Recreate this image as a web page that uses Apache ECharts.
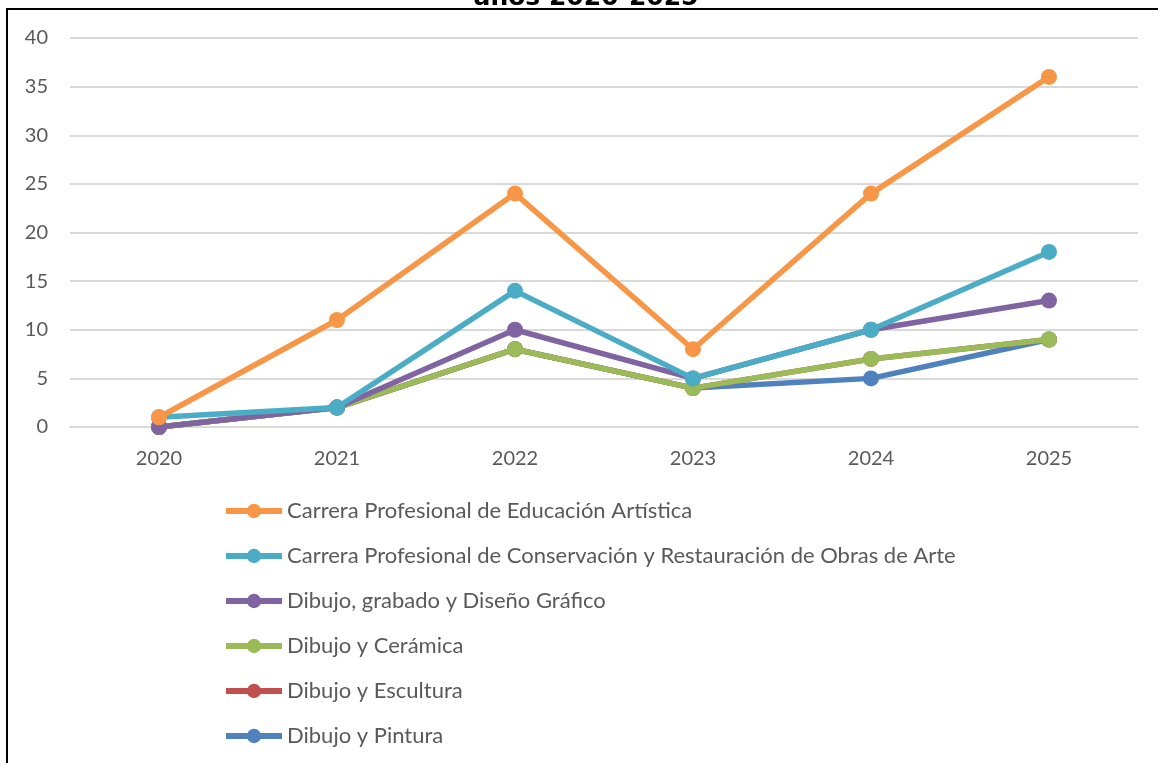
<!DOCTYPE html>
<html>
<head>
<meta charset="utf-8">
<script src="https://cdn.jsdelivr.net/npm/echarts@6/dist/echarts.min.js"></script>
<style>html,body{margin:0;padding:0;background:#fff;}#c{width:1158px;height:763px;}</style>
</head>
<body>
<div id="c"></div>
<script>
const years = ['2020','2021','2022','2023','2024','2025'];
const seriesNames = [
  'Carrera Profesional de Educación Artística',
  'Carrera Profesional de Conservación y Restauración de Obras de Arte',
  'Dibujo, grabado y Diseño Gráfico',
  'Dibujo y Cerámica',
  'Dibujo y Escultura',
  'Dibujo y Pintura'
];
const educacionArtistica = [1, 11, 24, 8, 24, 36];
const conservacion = [1, 2, 14, 5, 10, 18];
const grabadoDiseno = [0, 2, 10, 5, 10, 13];
const ceramica = [0, 2, 8, 4, 7, 9];
const escultura = [0, 2, 8, 4, 7, 9];
const pintura = [0, 2, 8, 4, 5, 9];
const colors = ['#F79646', '#4BACC6', '#8064A2', '#9BBB59', '#C0504D', '#4F81BD'];
const yTicks = [0, 5, 10, 15, 20, 25, 30, 35, 40];
const titleText = 'años 2020-2025';

const values = [educacionArtistica, conservacion, grabadoDiseno, ceramica, escultura, pintura];
const chart = echarts.init(document.getElementById('c'));
const font = 'Lato, "Open Sans", sans-serif';
chart.setOption({
  animation: false,
  backgroundColor: '#fff',
  graphic: [
    {type: 'rect', shape: {x: 7, y: 9, width: 1200, height: 800}, style: {fill: 'none', stroke: '#000', lineWidth: 2}, z: 100},
    {type: 'text', x: 586, y: 11, style: {text: titleText, fill: '#000', font: 'bold 25px "DejaVu Sans", sans-serif', align: 'center', verticalAlign: 'bottom'}}
  ],
  grid: {left: 70, right: 20, top: 38, bottom: 336},
  xAxis: {
    type: 'category', data: years, boundaryGap: true,
    axisLine: {show: true, lineStyle: {color: '#d9d9d9', width: 2}},
    axisTick: {show: false},
    axisLabel: {color: '#595959', fontSize: 20, fontFamily: font, margin: 22}
  },
  yAxis: {
    type: 'value', min: yTicks[0], max: yTicks[yTicks.length - 1], interval: 5,
    axisLine: {show: false}, axisTick: {show: false},
    splitLine: {lineStyle: {color: '#d9d9d9', width: 2}},
    axisLabel: {color: '#595959', fontSize: 20, fontFamily: font, margin: 22}
  },
  legend: {
    orient: 'vertical', left: 218, top: 495, itemWidth: 56, itemHeight: 18, itemGap: 23,
    data: seriesNames,
    lineStyle: {width: 6},
    textStyle: {color: '#595959', fontSize: 22, fontFamily: font}
  },
  series: seriesNames.map((n, i) => ({
    name: n, type: 'line', data: values[i],
    z: 2 + (seriesNames.length - i),
    symbol: 'circle', symbolSize: 16,
    lineStyle: {color: colors[i], width: 5.5},
    itemStyle: {color: colors[i]}
  }))
});
</script>
</body>
</html>
